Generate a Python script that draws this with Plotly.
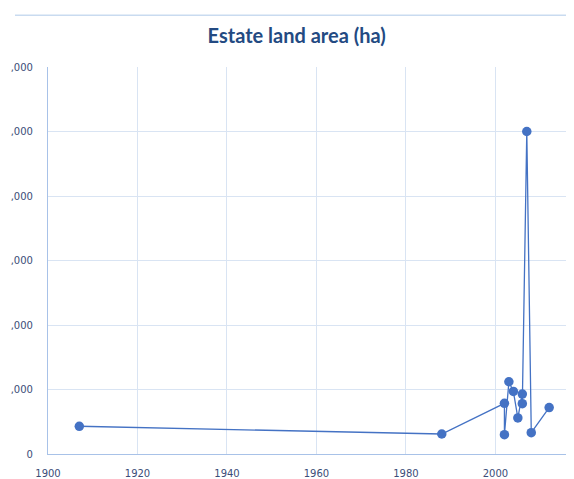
import plotly.graph_objects as go

# Data (year, estate land area in ha), in drawing order
years = [1907, 1988, 2002, 2002, 2003, 2004, 2005, 2006, 2006, 2007, 2008, 2012]
area_ha = [4300, 3100, 7850, 3000, 11200, 9700, 5600, 9300, 7800, 50000, 3300, 7200]

y_tick_vals = [0, 10000, 20000, 30000, 40000, 50000, 60000]
y_tick_text = ["0", ",000", ",000", ",000", ",000", ",000", ",000"]
x_tick_vals = [1900, 1920, 1940, 1960, 1980, 2000]
x_range = [1900, 2017.55]
extra_x_tick = 2020

blue = "#4472c4"
grid = "#d9e4f3"
axis_col = "#a8c2e8"
tick_col = "#3b4d78"

fig = go.Figure()
fig.add_trace(go.Scatter(
    x=years, y=area_ha, mode="lines+markers",
    line=dict(color=blue, width=1.3),
    marker=dict(color=blue, size=9.5),
    cliponaxis=False, showlegend=False,
))

fig.update_layout(
    width=566, height=471,
    margin=dict(l=40, r=0, t=59, b=23),
    paper_bgcolor="white", plot_bgcolor="white",
    title=dict(text="<b>Estate land area (ha)</b>", x=0.51, xanchor="center",
               y=1 - 28 / 471, yanchor="middle",
               font=dict(family="Lato", size=20, color="#234a82")),
    xaxis=dict(range=x_range, tickvals=x_tick_vals, showgrid=True, gridcolor=grid,
               gridwidth=1, zeroline=False, showline=True, linecolor=axis_col,
               linewidth=1.2, ticks="", ticklabelstandoff=10,
               tickfont=dict(family="DejaVu Sans", size=10, color=tick_col)),
    yaxis=dict(range=[0, 60000], tickvals=y_tick_vals, ticktext=y_tick_text,
               showgrid=True, gridcolor=grid, gridwidth=1, zeroline=False,
               showline=True, linecolor=axis_col, linewidth=1.2, ticks="",
               ticklabelstandoff=12,
               tickfont=dict(family="DejaVu Sans", size=10, color=tick_col)),
    shapes=[dict(type="line", xref="paper", yref="paper",
                 x0=-33 / 526, x1=1, y0=1 + 52 / 389, y1=1 + 52 / 389,
                 line=dict(color="#c9dbf0", width=1.5))],
)

# partially visible 2020 tick label at right edge
fig.add_annotation(
    x=(extra_x_tick - x_range[0]) / (x_range[1] - x_range[0]), xref="paper",
    y=0, yref="paper", yshift=-20, text=str(extra_x_tick), showarrow=False,
    xanchor="center", yanchor="middle",
    font=dict(family="DejaVu Sans", size=10, color=tick_col),
)

fig.write_html("out.html")
